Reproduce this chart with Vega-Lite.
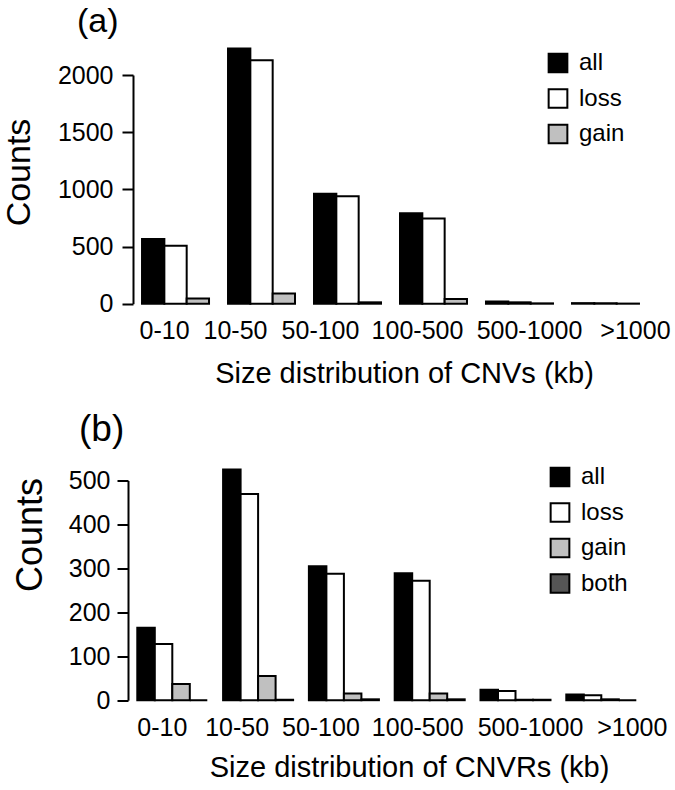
{
  "$schema": "https://vega.github.io/schema/vega-lite/v6.json",
  "background": "white",
  "padding": {"left": 2, "top": 5, "right": 5, "bottom": 5},
  "spacing": 21.5,
  "config": {
    "font": "Liberation Sans",
    "view": {"stroke": null},
    "axis": {"grid": false, "domainColor": "black", "domainWidth": 2, "tickColor": "black", "tickWidth": 2, "labelColor": "black", "titleColor": "black", "labelFont": "Liberation Sans", "titleFont": "Liberation Sans", "titleFontWeight": "normal"},
    "legend": {"labelFont": "Liberation Sans", "labelColor": "black"},
    "title": {"font": "Liberation Sans", "fontWeight": "normal", "color": "black"}
  },
  "datasets": {
    "cnv": [
      {"size": "0-10", "type": "all", "count": 566},
      {"size": "0-10", "type": "loss", "count": 507},
      {"size": "0-10", "type": "gain", "count": 45},
      {"size": "10-50", "type": "all", "count": 2231},
      {"size": "10-50", "type": "loss", "count": 2129},
      {"size": "10-50", "type": "gain", "count": 90},
      {"size": "50-100", "type": "all", "count": 962},
      {"size": "50-100", "type": "loss", "count": 939},
      {"size": "50-100", "type": "gain", "count": 12},
      {"size": "100-500", "type": "all", "count": 790},
      {"size": "100-500", "type": "loss", "count": 744},
      {"size": "100-500", "type": "gain", "count": 41},
      {"size": "500-1000", "type": "all", "count": 20},
      {"size": "500-1000", "type": "loss", "count": 12},
      {"size": "500-1000", "type": "gain", "count": 3},
      {"size": ">1000", "type": "all", "count": 5},
      {"size": ">1000", "type": "loss", "count": 4},
      {"size": ">1000", "type": "gain", "count": 1}
    ],
    "cnvr": [
      {"size": "0-10", "type": "all", "count": 165},
      {"size": "0-10", "type": "loss", "count": 128},
      {"size": "0-10", "type": "gain", "count": 37},
      {"size": "0-10", "type": "both", "count": 0},
      {"size": "10-50", "type": "all", "count": 525},
      {"size": "10-50", "type": "loss", "count": 469},
      {"size": "10-50", "type": "gain", "count": 55},
      {"size": "10-50", "type": "both", "count": 1},
      {"size": "50-100", "type": "all", "count": 305},
      {"size": "50-100", "type": "loss", "count": 288},
      {"size": "50-100", "type": "gain", "count": 15},
      {"size": "50-100", "type": "both", "count": 2},
      {"size": "100-500", "type": "all", "count": 289},
      {"size": "100-500", "type": "loss", "count": 272},
      {"size": "100-500", "type": "gain", "count": 15},
      {"size": "100-500", "type": "both", "count": 2},
      {"size": "500-1000", "type": "all", "count": 24},
      {"size": "500-1000", "type": "loss", "count": 21},
      {"size": "500-1000", "type": "gain", "count": 1},
      {"size": "500-1000", "type": "both", "count": 1},
      {"size": ">1000", "type": "all", "count": 13},
      {"size": ">1000", "type": "loss", "count": 11},
      {"size": ">1000", "type": "gain", "count": 2},
      {"size": ">1000", "type": "both", "count": 0}
    ]
  },
  "resolve": {"scale": {"x": "independent", "y": "independent", "fill": "independent", "xOffset": "independent"}, "legend": {"fill": "independent"}},
  "vconcat": [
    {
      "title": {"text": "(a)", "anchor": "start", "frame": "group", "fontSize": 34, "dx": -56, "offset": 8.5},
      "width": 515,
      "height": 228.7,
      "data": {"name": "cnv"},
      "mark": {"type": "bar", "stroke": "black", "strokeWidth": 2, "clip": false},
      "encoding": {
        "x": {"field": "size", "type": "nominal", "sort": ["0-10", "10-50", "50-100", "100-500", "500-1000", ">1000"], "scale": {"paddingInner": 0.221, "paddingOuter": 0.105},
          "axis": {"title": "Size distribution of CNVs (kb)", "labelAngle": 0, "domain": false, "ticks": false, "labelFontSize": 25, "titleFontSize": 29, "labelPadding": 15, "titlePadding": 16, "titleX": 271,
            "labelOffset": {"condition": [
              {"test": "datum.value === '0-10'", "value": -11},
              {"test": "datum.value === '10-50'", "value": -26},
              {"test": "datum.value === '50-100'", "value": -27},
              {"test": "datum.value === '100-500'", "value": -16},
              {"test": "datum.value === '500-1000'", "value": 10}
            ], "value": 30}}},
        "xOffset": {"field": "type", "type": "nominal", "sort": ["all", "loss", "gain"], "scale": {"paddingInner": 0, "paddingOuter": 0}},
        "y": {"field": "count", "type": "quantitative", "scale": {"domain": [0, 2000], "nice": false},
          "axis": {"values": [0, 500, 1000, 1500, 2000], "format": "d", "title": "Counts", "titleFontSize": 34, "labelFontSize": 25, "tickSize": 11, "labelPadding": 9, "titleX": -104, "titleY": 97, "titleAngle": -90, "titleBaseline": "alphabetic", "titleAlign": "center"}},
        "fill": {"field": "type", "type": "nominal", "scale": {"domain": ["all", "loss", "gain"], "range": ["#000000", "#ffffff", "#c0c0c0"]},
          "legend": {"orient": "none", "legendX": 413, "legendY": -24, "title": null, "symbolType": "square", "symbolSize": 350, "symbolStrokeWidth": 2, "symbolStrokeColor": "black", "symbolOpacity": 1, "labelFontSize": 24, "labelOffset": 9, "rowPadding": 7.5, "padding": 0}}
      }
    },
    {
      "title": {"text": "(b)", "anchor": "start", "frame": "group", "fontSize": 37, "dx": -54, "offset": 16},
      "width": 507.6,
      "height": 219.7,
      "data": {"name": "cnvr"},
      "mark": {"type": "bar", "stroke": "black", "strokeWidth": 2, "clip": false},
      "encoding": {
        "x": {"field": "size", "type": "nominal", "sort": ["0-10", "10-50", "50-100", "100-500", "500-1000", ">1000"], "scale": {"paddingInner": 0.184, "paddingOuter": 0.05},
          "axis": {"title": "Size distribution of CNVRs (kb)", "labelAngle": 0, "domain": false, "ticks": false, "labelFontSize": 25, "titleFontSize": 29, "labelPadding": 15, "titlePadding": 13.5, "titleX": 276,
            "labelOffset": {"condition": [
              {"test": "datum.value === '0-10'", "value": -10},
              {"test": "datum.value === '10-50'", "value": -21},
              {"test": "datum.value === '50-100'", "value": -23},
              {"test": "datum.value === '100-500'", "value": -12},
              {"test": "datum.value === '500-1000'", "value": 15}
            ], "value": 31}}},
        "xOffset": {"field": "type", "type": "nominal", "sort": ["all", "loss", "gain", "both"], "scale": {"paddingInner": 0, "paddingOuter": 0}},
        "y": {"field": "count", "type": "quantitative", "scale": {"domain": [0, 500], "nice": false},
          "axis": {"values": [0, 100, 200, 300, 400, 500], "format": "d", "offset": 5, "title": "Counts", "titleFontSize": 36, "labelFontSize": 25, "tickSize": 11, "labelPadding": 7, "titleX": -87, "titleY": 54, "titleAngle": -90, "titleBaseline": "alphabetic", "titleAlign": "center"}},
        "fill": {"field": "type", "type": "nominal", "scale": {"domain": ["all", "loss", "gain", "both"], "range": ["#000000", "#ffffff", "#c0c0c0", "#555555"]},
          "legend": {"orient": "none", "legendX": 415, "legendY": -15.5, "title": null, "symbolType": "square", "symbolSize": 350, "symbolStrokeWidth": 2, "symbolStrokeColor": "black", "symbolOpacity": 1, "labelFontSize": 24, "labelOffset": 9, "rowPadding": 7.5, "padding": 0}}
      }
    }
  ]
}
